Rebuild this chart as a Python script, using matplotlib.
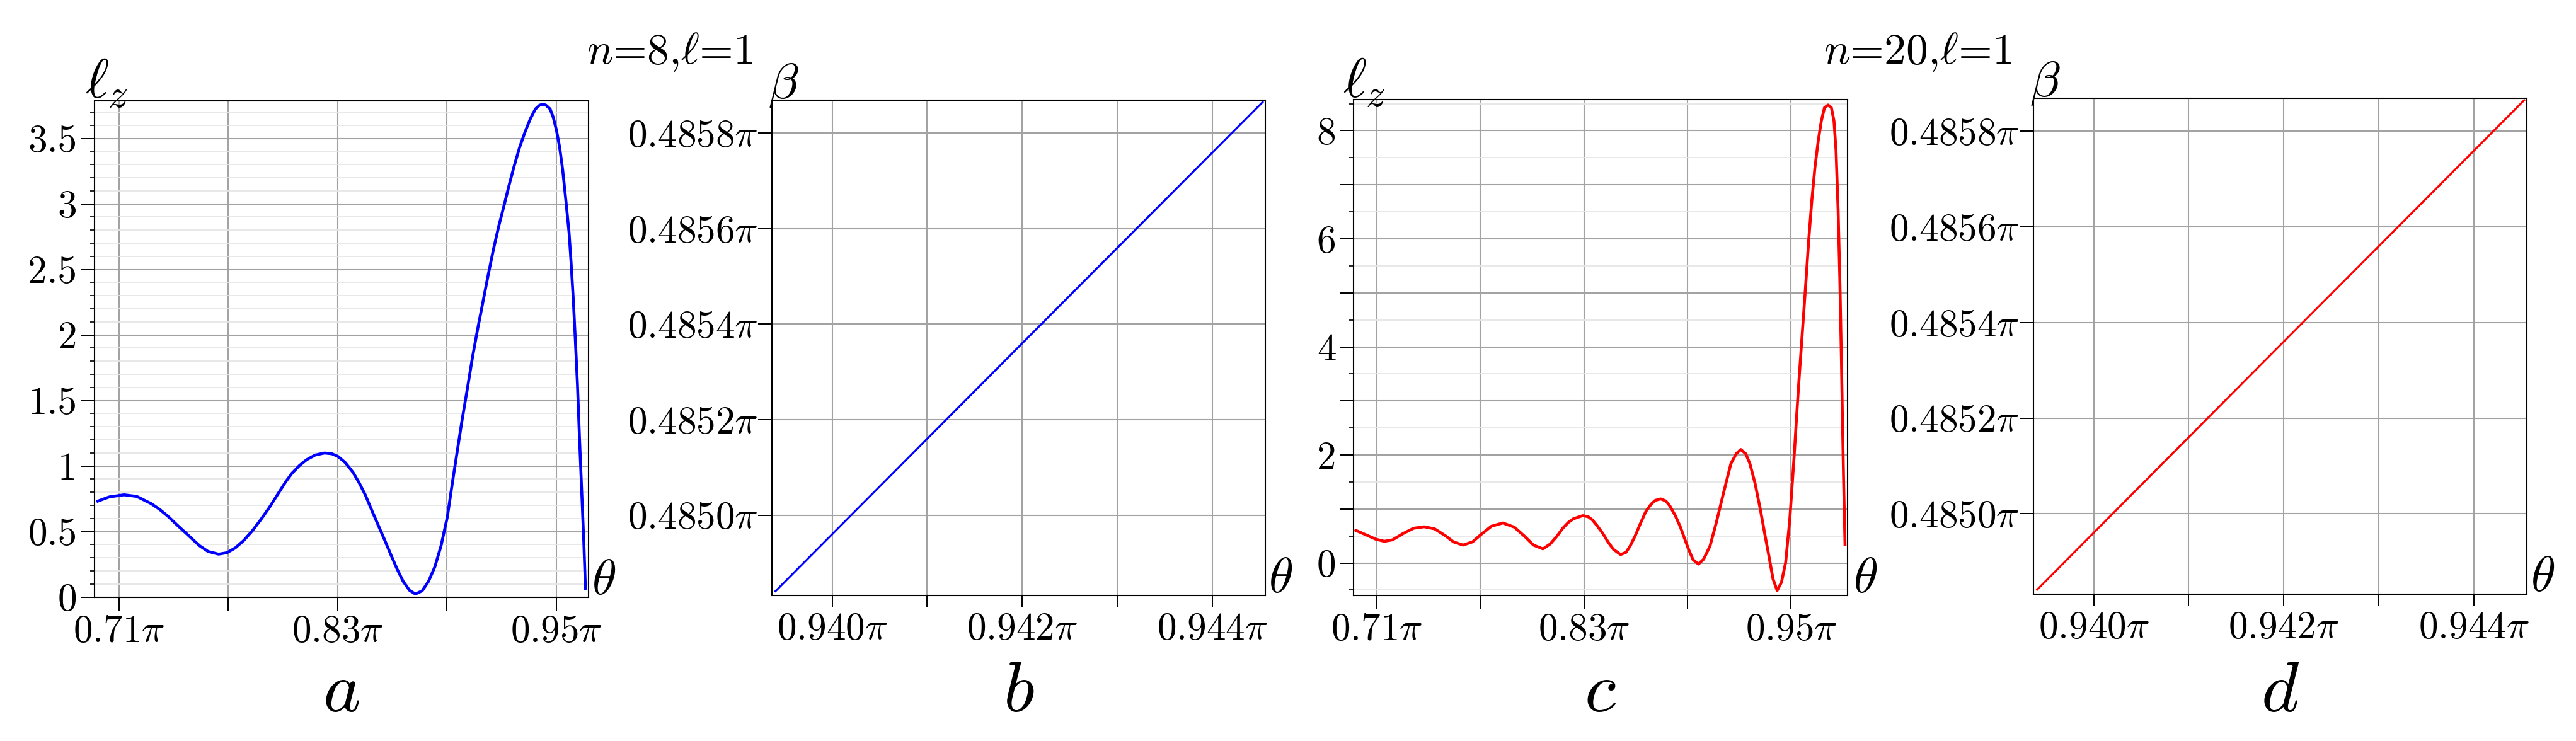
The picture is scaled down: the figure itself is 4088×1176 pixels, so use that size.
import matplotlib
matplotlib.use('Agg')
import matplotlib.pyplot as plt
from matplotlib.ticker import FixedLocator, FixedFormatter

plt.rcParams['font.family'] = ['cmr10', 'DejaVu Serif']
plt.rcParams['mathtext.fontset'] = 'cm'
plt.rcParams['axes.formatter.use_mathtext'] = True

# ---------------- data (theta in units of pi) ----------------
theta_a = [0.6983, 0.7046, 0.7127, 0.7196, 0.7277, 0.7323, 0.7369, 0.7415, 0.7461,
           0.7502, 0.7542, 0.7588, 0.7646, 0.7692, 0.7738, 0.7784, 0.7830, 0.7876,
           0.7923, 0.7969, 0.8015, 0.8049, 0.8090, 0.8130, 0.8176, 0.8228, 0.8268,
           0.8303, 0.8343, 0.8384, 0.8418, 0.8453, 0.8487, 0.8522, 0.8557, 0.8591,
           0.8626, 0.8660, 0.8695, 0.8727, 0.8764, 0.8799, 0.8834, 0.8868, 0.8903,
           0.8931, 0.8983, 0.9012, 0.9040, 0.9069, 0.9098, 0.9127, 0.9156, 0.9185,
           0.9213, 0.9242, 0.9271, 0.9300, 0.9329, 0.9358, 0.9386, 0.9409, 0.9427,
           0.9444, 0.9467, 0.9484, 0.9502, 0.9519, 0.9536, 0.9553, 0.9571, 0.9582,
           0.9594, 0.9605, 0.9617, 0.9628, 0.9640, 0.9652, 0.9661]
lz_a = [0.732, 0.764, 0.780, 0.768, 0.712, 0.668, 0.615, 0.554, 0.495,
        0.442, 0.391, 0.348, 0.327, 0.338, 0.375, 0.431, 0.503, 0.587,
        0.679, 0.780, 0.880, 0.944, 1.003, 1.048, 1.083, 1.099, 1.093,
        1.072, 1.024, 0.952, 0.872, 0.776, 0.663, 0.551, 0.439, 0.327,
        0.215, 0.119, 0.051, 0.023, 0.047, 0.119, 0.231, 0.391, 0.615,
        0.880, 1.347, 1.586, 1.825, 2.046, 2.252, 2.459, 2.655, 2.831,
        2.982, 3.145, 3.296, 3.434, 3.548, 3.648, 3.724, 3.753, 3.761,
        3.753, 3.724, 3.661, 3.560, 3.434, 3.258, 3.032, 2.780, 2.554,
        2.277, 1.976, 1.624, 1.222, 0.819, 0.417, 0.065]

theta_c = [0.6978, 0.7033, 0.7094, 0.7143, 0.7191, 0.7252, 0.7313, 0.7374, 0.7435,
           0.7496, 0.7544, 0.7599, 0.7654, 0.7703, 0.7764, 0.7830, 0.7897, 0.7958,
           0.8007, 0.8062, 0.8104, 0.8141, 0.8177, 0.8208, 0.8238, 0.8293, 0.8324,
           0.8348, 0.8378, 0.8409, 0.8439, 0.8470, 0.8512, 0.8543, 0.8567, 0.8597,
           0.8628, 0.8658, 0.8689, 0.8713, 0.8744, 0.8774, 0.8798, 0.8829, 0.8859,
           0.8883, 0.8908, 0.8932, 0.8963, 0.8993, 0.9030, 0.9066, 0.9103, 0.9127,
           0.9151, 0.9182, 0.9208, 0.9237, 0.9261, 0.9291, 0.9322, 0.9346, 0.9371,
           0.9395, 0.9419, 0.9444, 0.9468, 0.9492, 0.9517, 0.9541, 0.9565, 0.9584,
           0.9602, 0.9620, 0.9638, 0.9657, 0.9675, 0.9693, 0.9714, 0.9733, 0.9748,
           0.9760, 0.9772, 0.9782, 0.9791, 0.9797, 0.9803, 0.9812]
lz_c = [0.604, 0.527, 0.441, 0.402, 0.429, 0.546, 0.644, 0.671, 0.632,
        0.507, 0.391, 0.332, 0.391, 0.527, 0.682, 0.741, 0.663, 0.488,
        0.332, 0.262, 0.352, 0.488, 0.644, 0.748, 0.818, 0.877, 0.857,
        0.799, 0.682, 0.546, 0.391, 0.254, 0.157, 0.196, 0.313, 0.507,
        0.741, 0.954, 1.090, 1.160, 1.187, 1.149, 1.052, 0.877, 0.662,
        0.449, 0.236, 0.061, -0.020, 0.071, 0.315, 0.742, 1.229, 1.535,
        1.839, 2.022, 2.101, 2.022, 1.839, 1.473, 0.985, 0.559, 0.132,
        -0.295, -0.508, -0.356, 0.009, 0.802, 1.961, 3.181, 4.279, 5.134,
        5.987, 6.718, 7.328, 7.817, 8.183, 8.427, 8.476, 8.427, 8.183,
        7.634, 6.536, 5.255, 3.791, 2.693, 1.656, 0.345]

theta_b = [0.939404, 0.942000, 0.944530]
beta_b = [0.484841, 0.485360, 0.485865]
theta_d = [0.939404, 0.942000, 0.944530]
beta_d = [0.484841, 0.485360, 0.485865]

# ticks / labels
lz_xticks = [0.71, 0.77, 0.83, 0.89, 0.95]
lz_xlabels = [r'$\mathrm{0.71}\pi$', '', r'$\mathrm{0.83}\pi$', '', r'$\mathrm{0.95}\pi$']
a_yticks = [0, 0.5, 1, 1.5, 2, 2.5, 3, 3.5]
a_ylabels = ['0', '0.5', '1', '1.5', '2', '2.5', '3', '3.5']
a_yminor = [i / 10 for i in range(0, 38)]
c_yticks = [0, 1, 2, 3, 4, 5, 6, 7, 8]
c_ylabels = ['0', '', '2', '', '4', '', '6', '', '8']
c_yminor = [-0.5, 0.5, 1.5, 2.5, 3.5, 4.5, 5.5, 6.5, 7.5, 8.5]
beta_xticks = [0.940, 0.941, 0.942, 0.943, 0.944]
beta_xlabels = [r'$\mathrm{0.940}\pi$', '', r'$\mathrm{0.942}\pi$', '', r'$\mathrm{0.944}\pi$']
beta_yticks = [0.4850, 0.4852, 0.4854, 0.4856, 0.4858]
beta_ylabels = [r'$\mathrm{0.4850}\pi$', r'$\mathrm{0.4852}\pi$', r'$\mathrm{0.4854}\pi$',
                r'$\mathrm{0.4856}\pi$', r'$\mathrm{0.4858}\pi$']

titles = [r'$n$=8,$\ell$=1', r'$n$=20,$\ell$=1']
letters = ['a', 'b', 'c', 'd']

# ---------------- figure ----------------
W, H = 4088, 1176
fig = plt.figure(figsize=(W / 100, H / 100), dpi=100)


def add_axes_px(left, right, top, bottom):
    return fig.add_axes([left / W, (H - bottom) / H, (right - left) / W, (bottom - top) / H])


axA = add_axes_px(149.5, 934, 160.5, 947.5)
axB = add_axes_px(1225, 2008, 159, 945)
axC = add_axes_px(2147.5, 2931.5, 158, 945)
axD = add_axes_px(3227, 4010, 156, 942.75)

MAJ = '#a3a3a3'
MIN = '#e6e6e6'
TICK_FS = 44
LAB_FS = 57

for ax in (axA, axB, axC, axD):
    for s in ax.spines.values():
        s.set_linewidth(1.5)
        s.set_color('black')
    ax.set_axisbelow(True)

# panel a
axA.plot(theta_a, lz_a, color='#0000ff', lw=3.3, zorder=3, solid_joinstyle='round')
axA.set_xlim(0.6963, 0.9678)
axA.set_ylim(0, 3.784)
# panel c
axC.plot(theta_c, lz_c, color='#ff0000', lw=3.3, zorder=3, solid_joinstyle='round')
axC.set_xlim(0.6963, 0.9825)
axC.set_ylim(-0.60, 8.577)

for ax, yt, yl, ym in ((axA, a_yticks, a_ylabels, a_yminor), (axC, c_yticks, c_ylabels, c_yminor)):
    ax.xaxis.set_major_locator(FixedLocator(lz_xticks))
    ax.xaxis.set_major_formatter(FixedFormatter(lz_xlabels))
    ax.yaxis.set_major_locator(FixedLocator(yt))
    ax.yaxis.set_major_formatter(FixedFormatter(yl))
    ax.yaxis.set_minor_locator(FixedLocator(ym))
    ax.tick_params(axis='x', which='major', direction='out', length=15, width=1.4,
                   labelsize=TICK_FS, pad=5)
    ax.tick_params(axis='y', which='major', direction='out', length=15.5, width=1.4,
                   labelsize=TICK_FS, pad=4)
    ax.tick_params(axis='y', which='minor', direction='out', length=4.8, width=1.2)
    ax.grid(True, which='major', axis='both', color=MAJ, lw=1.5)
    ax.grid(True, which='minor', axis='y', color=MIN, lw=1.3)

# panels b, d
axB.plot(theta_b, beta_b, color='#0000ff', lw=2.3, zorder=3)
axD.plot(theta_d, beta_d, color='#ff0000', lw=2.3, zorder=3)
for ax in (axB, axD):
    ax.set_xlim(0.939366, 0.944558)
    ax.set_ylim(0.484832, 0.485869)
    ax.xaxis.set_major_locator(FixedLocator(beta_xticks))
    ax.xaxis.set_major_formatter(FixedFormatter(beta_xlabels))
    ax.yaxis.set_major_locator(FixedLocator(beta_yticks))
    ax.yaxis.set_major_formatter(FixedFormatter(beta_ylabels))
    ax.tick_params(axis='x', which='major', direction='out', length=13.5, width=1.4,
                   labelsize=TICK_FS, pad=6)
    ax.tick_params(axis='y', which='major', direction='out', length=15.5, width=1.4,
                   labelsize=TICK_FS, pad=0.5)
    ax.grid(True, which='major', axis='both', color=MAJ, lw=1.5)

# axis labels
axA.text(-0.0185, 1.006, r'$\ell_z$', transform=axA.transAxes, fontsize=64,
         ha='left', va='baseline')
axC.text(-0.0216, 1.004, r'$\ell_z$', transform=axC.transAxes, fontsize=64,
         ha='left', va='baseline')
axB.text(-0.008, 1.004, r'$\beta$', transform=axB.transAxes, fontsize=LAB_FS,
         ha='left', va='baseline')
axD.text(-0.008, 1.004, r'$\beta$', transform=axD.transAxes, fontsize=LAB_FS,
         ha='left', va='baseline')
for ax, dx in ((axA, 0.006), (axB, 0.006), (axC, 0.012), (axD, 0.008)):
    ax.text(1 + dx, 0.006, r'$\theta$', transform=ax.transAxes, fontsize=LAB_FS,
            ha='left', va='baseline')

# titles
fig.text(931 / W, (H - 101) / H, titles[0], fontsize=50, ha='left', va='baseline')
fig.text(2894 / W, (H - 101) / H, titles[1], fontsize=50, ha='left', va='baseline')

# panel letters
for ax, let in zip((axA, axB, axC, axD), letters):
    pos = ax.get_position()
    fig.text(pos.x0 + pos.width / 2, (H - 1129) / H, '$' + let + '$', fontsize=82,
             ha='center', va='baseline')

fig.savefig('out.png', dpi=100, facecolor='white')
